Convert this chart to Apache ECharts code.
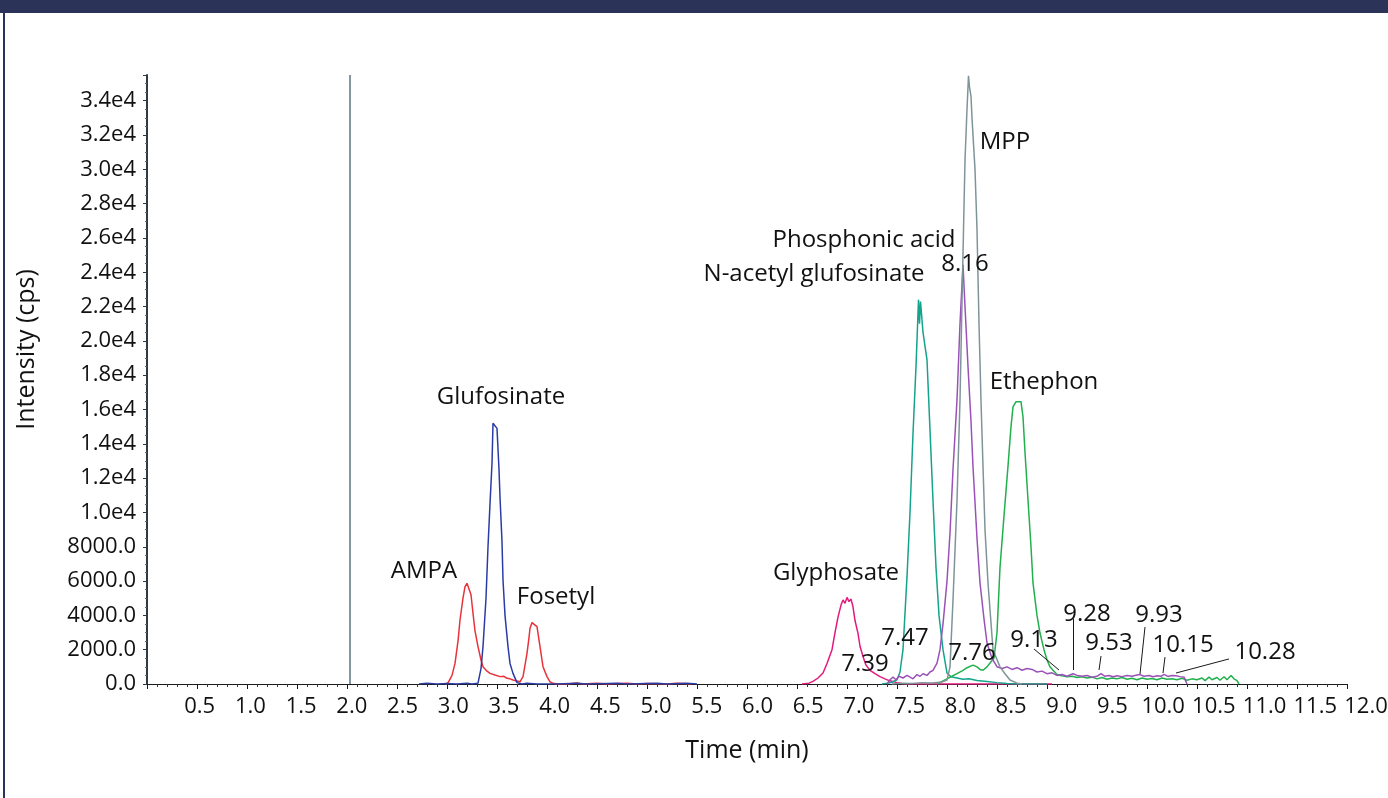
<!DOCTYPE html>
<html><head><meta charset="utf-8">
<script src="https://cdn.jsdelivr.net/npm/echarts@6.0.0/dist/echarts.min.js"></script>
<style>html,body{margin:0;padding:0;background:#fff}#c{width:1388px;height:798px}</style>
</head><body><div id="c"></div>
<script>
// ---- data (time in min, intensity in cps) ----
const ampaFosetyl = [[2.98,0],[3.01,60],[3.05,500],[3.08,1200],[3.11,2500],[3.13,3730],[3.16,5000],[3.18,5670],[3.20,5870],[3.22,5820],[3.24,5200],[3.26,4120],[3.28,3100],[3.31,2180],[3.34,1400],[3.36,1010],[3.40,750],[3.43,620],[3.48,520],[3.53,430],[3.57,450],[3.60,330],[3.63,300],[3.66,230],[3.70,180],[3.73,130],[3.76,430],[3.78,1100],[3.80,1790],[3.82,2700],[3.83,3250],[3.85,3580],[3.87,3550],[3.90,3340],[3.93,2180],[3.96,1010],[4.00,430],[4.03,130],[4.06,40],[4.10,0],[4.2,0],[4.3,60],[4.35,0],[4.5,40],[4.6,0],[4.8,50],[4.9,0],[5.0,30],[5.2,0],[5.3,50],[5.45,0]];
const glufosinate = [[2.72,0],[2.8,40],[2.9,0],[3.0,30],[3.1,0],[3.2,40],[3.25,0],[3.31,50],[3.34,900],[3.36,2180],[3.39,5000],[3.41,8000],[3.43,10500],[3.45,12870],[3.46,15200],[3.48,15100],[3.50,14900],[3.52,12500],[3.53,10900],[3.55,8300],[3.56,6060],[3.58,4000],[3.61,2180],[3.63,1200],[3.66,620],[3.70,80],[3.75,0],[3.8,40],[3.9,0],[4.1,0],[4.3,40],[4.4,0],[4.7,50],[4.8,0],[5.1,40],[5.2,0],[5.4,50],[5.5,0]];
const glyphosate = [[6.55,0],[6.62,50],[6.66,150],[6.71,350],[6.76,640],[6.80,1200],[6.85,2000],[6.88,3000],[6.91,3900],[6.94,4600],[6.96,4900],[6.98,4700],[7.00,5050],[7.02,4800],[7.04,4950],[7.06,4500],[7.08,3700],[7.11,2950],[7.13,2200],[7.16,1600],[7.19,1100],[7.23,800],[7.28,600],[7.33,430],[7.38,300],[7.42,200],[7.46,150],[7.50,80],[7.55,30],[7.6,0],[8.5,0],[9.05,0]];
const nAcetylGlufosinate = [[7.35,0],[7.40,40],[7.45,100],[7.50,250],[7.53,700],[7.56,2000],[7.60,6257],[7.63,10000],[7.66,14600],[7.69,18500],[7.715,22400],[7.725,21000],[7.735,22300],[7.76,20500],[7.80,18900],[7.83,14800],[7.86,10700],[7.89,6800],[7.92,4000],[7.96,2000],[8.00,640],[8.04,420],[8.10,350],[8.16,280],[8.22,300],[8.30,200],[8.40,150],[8.50,80],[8.60,30],[8.70,0],[9.0,0]];
const ethephon = [[7.90,0],[7.95,150],[8.00,300],[8.05,450],[8.10,600],[8.16,800],[8.20,950],[8.26,1100],[8.30,1000],[8.33,850],[8.36,800],[8.40,1000],[8.44,1300],[8.47,1500],[8.50,3000],[8.53,6800],[8.57,9800],[8.61,12700],[8.64,15000],[8.66,16150],[8.69,16460],[8.71,16350],[8.74,16460],[8.76,15570],[8.78,13500],[8.81,10730],[8.84,8000],[8.86,5890],[8.90,4000],[8.93,2970],[8.97,2000],[9.00,1400],[9.03,1000],[9.06,800],[9.10,550],[9.15,480],[9.20,420],[9.25,450],[9.30,380],[9.35,420],[9.40,350],[9.45,400],[9.50,300],[9.55,380],[9.60,280],[9.65,350],[9.70,300],[9.75,380],[9.80,280],[9.85,330],[9.90,250],[9.95,350],[10.00,280],[10.05,320],[10.10,250],[10.15,350],[10.20,280],[10.25,300],[10.30,250],[10.35,330],[10.40,220],[10.45,300],[10.50,250],[10.55,350],[10.58,200],[10.62,400],[10.65,250],[10.70,380],[10.73,220],[10.77,420],[10.80,250],[10.84,500],[10.87,300],[10.90,200],[10.92,0]];
const phosphonicAcid = [[7.40,0],[7.43,250],[7.46,400],[7.49,250],[7.52,450],[7.56,350],[7.60,500],[7.63,400],[7.66,300],[7.70,550],[7.73,450],[7.76,600],[7.80,500],[7.83,700],[7.86,800],[7.90,1220],[7.93,2000],[7.96,3500],[8.00,6000],[8.03,8800],[8.06,12500],[8.10,16560],[8.13,21000],[8.16,24430],[8.18,22000],[8.21,18500],[8.24,15300],[8.26,12670],[8.30,8500],[8.33,5890],[8.37,3800],[8.40,2390],[8.45,1500],[8.50,1010],[8.55,900],[8.60,1000],[8.65,850],[8.70,950],[8.75,800],[8.80,900],[8.85,850],[8.90,700],[8.95,750],[9.00,600],[9.05,650],[9.10,500],[9.15,550],[9.20,450],[9.26,600],[9.30,500],[9.35,450],[9.40,500],[9.45,400],[9.50,450],[9.54,600],[9.58,450],[9.62,500],[9.66,420],[9.70,480],[9.75,430],[9.80,500],[9.85,450],[9.90,520],[9.93,550],[9.97,450],[10.02,500],[10.06,420],[10.10,480],[10.14,450],[10.17,560],[10.21,440],[10.25,500],[10.29,480],[10.33,430],[10.37,400],[10.39,380],[10.40,0]];
const mpp = [[7.45,0],[7.55,50],[7.65,30],[7.75,80],[7.85,60],[7.95,120],[8.00,230],[8.03,1000],[8.06,4900],[8.10,10700],[8.13,16560],[8.16,25100],[8.18,30550],[8.20,33500],[8.215,35450],[8.225,34800],[8.24,34250],[8.25,33000],[8.28,30000],[8.30,26500],[8.32,21000],[8.34,16500],[8.36,12670],[8.38,9000],[8.41,5890],[8.46,2000],[8.53,1000],[8.58,600],[8.63,230],[8.70,50],[8.75,0]];
const markerTime = [2.03];
// annotations: [time, intensity, text]
const annotations = [[3.54,16735,'Glufosinate'],[2.77,6590,'AMPA'],[4.09,5070,'Fosetyl'],[6.89,6470,'Glyphosate'],[7.17,25890,'Phosphonic acid'],[6.67,23910,'N-acetyl glufosinate'],[8.18,24490,'8.16'],[8.58,31600,'MPP'],[8.97,17610,'Ethephon'],[7.58,2680,'7.47'],[7.18,1170,'7.39'],[8.25,1810,'7.76'],[8.87,2560,'9.13'],[9.40,4080,'9.28'],[9.62,2390,'9.53'],[10.12,4020,'9.93'],[10.36,2270,'10.15'],[11.18,1870,'10.28']];
// leader lines: [t1, v1, t2, v2]
const leaders = [[8.87,2040,9.12,816],[9.26,3790,9.26,816],[9.54,1630,9.52,816],[9.98,3320,9.93,583],[10.18,1570,10.16,640],[10.82,1460,10.29,640]];

const FONT = "'Open Sans','Noto Sans',sans-serif";
const TXT = '#111111';
const chart = echarts.init(document.getElementById('c'), null, {renderer:'canvas'});

function trace(name, data, color, extra) {
  return Object.assign({
    name, type:'line', data, xAxisIndex:0, yAxisIndex:0,
    showSymbol:false, symbol:'none', smooth:false,
    lineStyle:{color, width:1.5}, itemStyle:{color}, z:3
  }, extra || {});
}

const option = {
  animation:false,
  backgroundColor:'#ffffff',
  graphic:[
    {type:'rect', left:0, top:0, shape:{width:1388, height:13}, style:{fill:'#2b3359'}},
    {type:'rect', left:3, top:13, shape:{width:2, height:785}, style:{fill:'#2b3359'}}
  ],
  grid:[
    {left:147, right:41, top:75, bottom:114, outerBoundsMode:'none', containLabel:false},
    {left:149, right:22, top:75, bottom:114, outerBoundsMode:'none', containLabel:false}
  ],
  xAxis:[
    {gridIndex:0, type:'value', min:0, max:12, interval:0.5,
     axisLine:{show:true, onZero:false, lineStyle:{color:'#1a1a1a', width:1}},
     axisTick:{show:true, length:5, lineStyle:{color:'#1a1a1a'}},
     minorTick:{show:true, splitNumber:5, length:3, lineStyle:{color:'#333'}},
     axisLabel:{show:false}, splitLine:{show:false}, minorSplitLine:{show:false},
     name:'Time (min)', nameLocation:'middle', nameGap:54,
     nameTextStyle:{fontFamily:FONT, fontSize:25, color:TXT}},
    {gridIndex:1, type:'value', min:0, max:12, interval:0.5,
     axisLine:{show:false}, axisTick:{show:false}, splitLine:{show:false},
     axisLabel:{show:true, showMinLabel:false, margin:12, formatter:v=>v.toFixed(1),
       fontFamily:FONT, fontSize:22, color:TXT, hideOverlap:false}}
  ],
  yAxis:[
    {gridIndex:0, type:'value', min:0, max:35500, interval:2000,
     axisLine:{show:true, onZero:false, lineStyle:{color:'#2e3b44', width:2}},
     axisTick:{show:true, length:4, lineStyle:{color:'#2e3b44'}},
     minorTick:{show:true, splitNumber:4, length:2, lineStyle:{color:'#666'}},
     splitLine:{show:false},
     axisLabel:{showMaxLabel:false, margin:11, fontFamily:FONT, fontSize:22, color:TXT,
       formatter:v=> v>=10000 ? (v/10000).toFixed(1)+'e4' : v.toFixed(1)},
     name:'Intensity (cps)', nameLocation:'middle', nameGap:108, nameRotate:90,
     nameTextStyle:{fontFamily:FONT, fontSize:25, color:TXT, padding:[0,0,0,60]}},
    {gridIndex:1, type:'value', min:0, max:35500, show:false}
  ],
  series:[
    trace('AMPA / Fosetyl', ampaFosetyl, '#e8333b', {
      markLine:{silent:true, symbol:['none','none'], label:{show:false},
        lineStyle:{color:'#8597a0', width:2, type:'solid'},
        data: markerTime.map(t=>({xAxis:t}))}
    }),
    trace('Glufosinate', glufosinate, '#2a3ca4'),
    trace('Glyphosate', glyphosate, '#e4197c'),
    trace('N-acetyl glufosinate', nAcetylGlufosinate, '#14a38c'),
    trace('Ethephon', ethephon, '#22b04e'),
    trace('Phosphonic acid', phosphonicAcid, '#9a52b8'),
    trace('MPP', mpp, '#7f9499'),
    {name:'labels', type:'scatter', xAxisIndex:0, yAxisIndex:0, symbolSize:0, z:5,
     itemStyle:{opacity:1, color:'transparent'},
     data: annotations.map(a=>({value:[a[0],a[1]], name:a[2]})),
     label:{show:true, position:'inside', formatter:p=>p.name, fontFamily:FONT, fontSize:24,
       color:TXT, opacity:1, textBorderWidth:0},
     markLine:{silent:true, symbol:['none','none'], label:{show:false},
       lineStyle:{color:'#1a1a1a', width:1, type:'solid', opacity:1},
       data: leaders.map(l=>[{coord:[l[0],l[1]]},{coord:[l[2],l[3]]}])}
    }
  ]
};
chart.setOption(option);
</script></body></html>
